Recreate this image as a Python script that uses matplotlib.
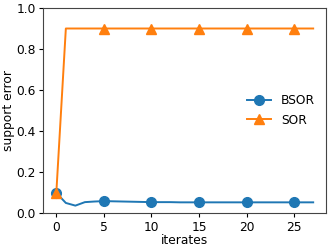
import matplotlib
matplotlib.use("Agg")
import matplotlib.pyplot as plt

iters = list(range(28))
bsor = [0.098, 0.049, 0.036, 0.053, 0.056, 0.058, 0.057, 0.056, 0.055, 0.054,
        0.053, 0.053, 0.053, 0.052, 0.052, 0.052, 0.052, 0.052, 0.052, 0.052,
        0.052, 0.052, 0.052, 0.052, 0.052, 0.052, 0.052, 0.052]
sor = [0.1] + [0.9] * 27

plt.rcParams['font.size'] = 8.8
fig, ax = plt.subplots(figsize=(3.32, 2.5), dpi=100)
ax.plot(iters, bsor, marker='o', markevery=5, markersize=7, lw=1.4, label='BSOR', color='#1f77b4')
ax.plot(iters, sor, marker='^', markevery=5, markersize=7, lw=1.4, label='SOR', color='#ff7f0e')
ax.set_ylim(0, 1.0)
ax.set_xticks([0, 5, 10, 15, 20, 25])
ax.set_xlabel('iterates', labelpad=0)
ax.set_ylabel('support error', labelpad=1)
ax.tick_params(length=3, pad=2.5)
for s in ax.spines.values():
    s.set_color('#444444')
ax.legend(loc='center right', frameon=False)
fig.subplots_adjust(left=0.131, right=0.982, top=0.968, bottom=0.148)
fig.savefig('out.png', dpi=100)
